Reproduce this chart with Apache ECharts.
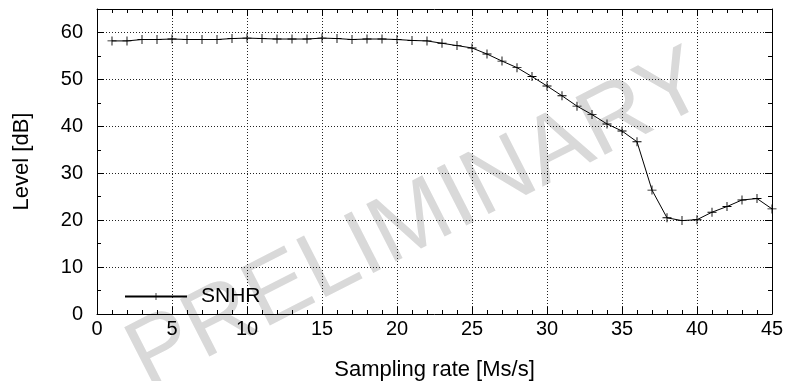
<!DOCTYPE html>
<html>
<head>
<meta charset="utf-8">
<script src="https://cdn.jsdelivr.net/npm/echarts@6/dist/echarts.min.js"></script>
<style>html,body{margin:0;padding:0;background:#fff;}#c{width:790px;height:381px;}</style>
</head>
<body>
<div id="c"></div>
<script>
var samplingRate = [1,2,3,4,5,6,7,8,9,10,11,12,13,14,15,16,17,18,19,20,21,22,23,24,25,26,27,28,29,30,31,32,33,34,35,36,37,38,39,40,41,42,43,44,45];
var snhr = [58.2,58.2,58.5,58.5,58.6,58.5,58.5,58.5,58.7,58.8,58.7,58.6,58.6,58.6,58.8,58.7,58.5,58.6,58.6,58.5,58.3,58.2,57.7,57.2,56.7,55.4,53.9,52.5,50.6,48.6,46.5,44.3,42.5,40.5,39.0,36.7,26.4,20.5,19.9,20.1,21.7,22.9,24.3,24.6,22.4];
var xTicks = [0,5,10,15,20,25,30,35,40,45];
var yTicks = [0,10,20,30,40,50,60];
var seriesName = 'SNHR';
var xTitle = 'Sampling rate [Ms/s]';
var yTitle = 'Level [dB]';
var watermark = 'PRELIMINARY';

var FONT = '"Liberation Sans", Arial, sans-serif';
var chart = echarts.init(document.getElementById('c'));
var plus = 'path://M0,4.5L10,4.5L10,5.5L0,5.5ZM4.5,0L5.5,0L5.5,10L4.5,10Z';
var tickCommon = {show: true, inside: true, length: 7, lineStyle: {color: '#000', width: 1}};
var minorCommon = {show: true, length: 4, lineStyle: {color: '#000', width: 1}};
chart.setOption({
  animation: false,
  backgroundColor: '#fff',
  graphic: [{
    type: 'text', z: -10, silent: true,
    x: 418, y: 221, rotation: 27 * Math.PI / 180,
    style: {text: watermark, fontSize: 94, fontFamily: FONT, fill: '#d9d9d9', textAlign: 'center', textVerticalAlign: 'middle'}
  }],
  grid: {left: 97, right: 18, top: 9, bottom: 67, show: false, outerBoundsMode: 'none', containLabel: false},
  legend: {
    left: 124, top: 286, padding: 0, itemWidth: 62, itemHeight: 9, itemGap: 0,
    textStyle: {fontSize: 21, fontFamily: FONT, color: '#000', padding: [0, 0, 0, 9]},
    data: [{name: seriesName}]
  },
  xAxis: [{
    type: 'value', min: 0, max: 45, interval: 5, position: 'bottom',
    axisLine: {show: true, onZero: false, lineStyle: {color: '#000', width: 1}},
    axisTick: tickCommon, minorTick: Object.assign({splitNumber: 5}, minorCommon),
    axisLabel: {fontSize: 20, fontFamily: FONT, color: '#000', margin: 5,
      formatter: function(v){ return xTicks.indexOf(v) >= 0 ? String(v) : ''; }},
    splitLine: {show: true, lineStyle: {color: '#222', type: [1, 2], width: 1}},
    name: xTitle, nameLocation: 'middle', nameGap: 45,
    nameTextStyle: {fontSize: 22, fontFamily: FONT, color: '#000'}
  }, {
    type: 'value', min: 0, max: 45, interval: 5, position: 'top',
    axisLine: {show: true, onZero: false, lineStyle: {color: '#000', width: 1}},
    axisTick: tickCommon, minorTick: Object.assign({splitNumber: 5}, minorCommon),
    axisLabel: {show: false}, splitLine: {show: false}
  }],
  yAxis: [{
    type: 'value', min: 0, max: 65, interval: 10, position: 'left',
    axisLine: {show: true, onZero: false, lineStyle: {color: '#000', width: 1}},
    axisTick: tickCommon, minorTick: Object.assign({splitNumber: 2}, minorCommon),
    axisLabel: {fontSize: 20, fontFamily: FONT, color: '#000', margin: 14, showMaxLabel: false,
      formatter: function(v){ return yTicks.indexOf(v) >= 0 ? String(v) : ''; }},
    splitLine: {show: true, lineStyle: {color: '#222', type: [1, 2], width: 1}},
    name: yTitle, nameLocation: 'middle', nameGap: 64, nameRotate: 90,
    nameTextStyle: {fontSize: 22, fontFamily: FONT, color: '#000'}
  }, {
    type: 'value', min: 0, max: 65, interval: 10, position: 'right',
    axisLine: {show: true, onZero: false, lineStyle: {color: '#000', width: 1}},
    axisTick: tickCommon, minorTick: Object.assign({splitNumber: 2}, minorCommon),
    axisLabel: {show: false}, splitLine: {show: false}
  }],
  series: [{
    name: seriesName, type: 'line', xAxisIndex: 0, yAxisIndex: 0,
    data: samplingRate.map(function(x, i){ return [x, snhr[i]]; }),
    symbol: plus, symbolSize: 9, showAllSymbol: true,
    lineStyle: {color: '#000', width: 1},
    itemStyle: {color: '#000'},
    z: 5
  }]
});
</script>
</body>
</html>
